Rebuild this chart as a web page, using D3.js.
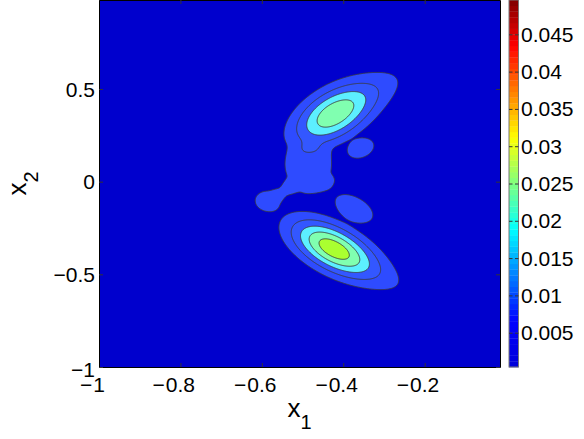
<!DOCTYPE html>
<html><head><meta charset="utf-8">
<script src="https://cdn.jsdelivr.net/npm/d3@7"></script>
<style>
body{margin:0;background:#fff}
svg{display:block}
text{font-family:"Liberation Sans",Arial,Helvetica,sans-serif;fill:#000}
</style>
</head><body>
<svg id="chart" width="584" height="439"></svg>
<script>
// ---- axis / tick data ----
const xTicks = [-1, -0.8, -0.6, -0.4, -0.2];
const yTicks = [-1, -0.5, 0, 0.5];
const cbTicks = [0.005, 0.01, 0.015, 0.02, 0.025, 0.03, 0.035, 0.04, 0.045];
const xExtent = [-1, -0.015];
const yExtent = [-1, 0.98];
const cExtent = [0.0004, 0.0496];
// contour levels of the density
const levels = [0.005, 0.01, 0.015, 0.02, 0.025];
// density: sum of bumps (centre, spread, tilt, height, edge sharpness)
// order: lower peak, lower skew, upper peak, upper skew, tail, foot, lobe, neck, blob right, blob middle
const bumpX     = [-0.4245, -0.2794, -0.4252, -0.3089, -0.4835, -0.4565, -0.5893, -0.5426, -0.3556, -0.3729];
const bumpY     = [-0.3611, -0.5402, 0.360, 0.5057, 0.0523, -0.007, -0.099, -0.0448, 0.1765, -0.1419];
const bumpSX    = [0.072, 0.0738, 0.0689, 0.0738, 0.0516, 0.0344, 0.0290, 0.0295, 0.0253, 0.0384];
const bumpSY    = [0.108, 0.108, 0.116, 0.108, 0.108, 0.0324, 0.052, 0.0486, 0.0416, 0.0615];
const bumpRho   = [-0.57, -0.6, 0.5, 0.6, 0, 0, 0, 0.7, 0.3, -0.5];
const bumpAmp   = [0.028, 0.003, 0.023, 0.0042, 0.0055, 0.0025, 0.0055, 0.0042, 0.008, 0.008];
const bumpShape = [1, 1, 1, 1, 3, 2, 2, 2, 2, 2];

// ---- styles ----
const bandColors = ["#0000cd", "#2e4bff", "#3357ff", "#5cefff", "#80ffb0", "#aaff30"];

const svg = d3.select("#chart");
const L = 99, R = 500, T = 0, B = 367;
const x = d3.scaleLinear().domain(xExtent).range([L, R]);
const y = d3.scaleLinear().domain(yExtent).range([B, T]);

function density(xd, yd) {
  let v = 0;
  for (let k = 0; k < bumpX.length; k++) {
    const dx = (xd - bumpX[k]) / bumpSX[k], dy = (yd - bumpY[k]) / bumpSY[k], r = bumpRho[k];
    const q = (dx * dx - 2 * r * dx * dy + dy * dy) / (1 - r * r);
    v += bumpAmp[k] * Math.exp(-Math.pow(q / 2, bumpShape[k]));
  }
  return v;
}
const W = R - L, H = B - T;
const vals = new Float64Array(W * H);
for (let j = 0; j < H; j++) {
  const yd = y.invert(T + j + 0.5);
  for (let i = 0; i < W; i++) vals[j * W + i] = density(x.invert(L + i + 0.5), yd);
}
const contours = d3.contours().size([W, H]).thresholds(levels)(vals);

svg.append("defs").append("clipPath").attr("id", "clip")
  .append("rect").attr("x", L).attr("y", T).attr("width", W).attr("height", H);
const plot = svg.append("g").attr("clip-path", "url(#clip)");
plot.append("rect").attr("x", L).attr("y", T).attr("width", W).attr("height", H).attr("fill", bandColors[0]);
const path = d3.geoPath();
plot.append("g").attr("transform", `translate(${L},${T})`)
  .selectAll("path").data(contours).join("path")
  .attr("d", path)
  .attr("fill", (d, i) => bandColors[i + 1])
  .attr("stroke", "#3a3a3a").attr("stroke-width", 0.9).attr("stroke-linejoin", "round");

// ---- axes (ticks inward, box) ----
const tickLen = 4;
const axB = svg.append("g").attr("transform", `translate(0,${B})`)
  .call(d3.axisBottom(x).tickValues(xTicks).tickSizeInner(-tickLen).tickSizeOuter(0).tickFormat(""));
const axT = svg.append("g").attr("transform", `translate(0,${T})`)
  .call(d3.axisTop(x).tickValues(xTicks).tickSizeInner(-tickLen).tickSizeOuter(0).tickFormat(""));
const axL = svg.append("g").attr("transform", `translate(${L},0)`)
  .call(d3.axisLeft(y).tickValues(yTicks).tickSizeInner(-tickLen).tickSizeOuter(0).tickFormat(""));
const axR = svg.append("g").attr("transform", `translate(${R},0)`)
  .call(d3.axisRight(y).tickValues(yTicks).tickSizeInner(-tickLen).tickSizeOuter(0).tickFormat(""));
[axB, axT, axL, axR].forEach(a => {
  a.select(".domain").attr("stroke", "#000").attr("stroke-width", 1);
  a.selectAll(".tick line").attr("stroke", "#333");
});

const fs = 21;
function fmt(v) { return String(Math.abs(v)); }
// x tick labels: number centred on tick, minus hanging left
xTicks.forEach(v => {
  const t = svg.append("text").attr("x", x(v)).attr("y", B + 25).attr("font-size", fs)
    .attr("text-anchor", "middle").text(fmt(v));
  if (v < 0) {
    const w = t.node().getComputedTextLength();
    svg.append("text").attr("x", x(v) - w / 2 - 1).attr("y", B + 25).attr("font-size", fs)
      .attr("text-anchor", "end").text("\u2212");
  }
});
yTicks.forEach(v => {
  svg.append("text").attr("x", L - 4).attr("y", y(v) + (v === -1 ? 2 : 0)).attr("dy", "0.36em").attr("font-size", fs)
    .attr("text-anchor", "end").text((v < 0 ? "\u2212" : "") + fmt(v));
});

// axis titles
const xl = svg.append("text").attr("x", (L + R) / 2).attr("y", 417).attr("text-anchor", "middle").attr("font-size", 26);
xl.append("tspan").text("x");
xl.append("tspan").attr("font-size", 20).attr("dy", 12).text("1");
const yl = svg.append("text").attr("transform", `translate(26,${(T + B) / 2}) rotate(-90)`).attr("text-anchor", "middle").attr("font-size", 26);
yl.append("tspan").text("x");
yl.append("tspan").attr("font-size", 20).attr("dy", 12).text("2");

// ---- colorbar ----
const cbL = 509, cbW = 9.5;
const c = d3.scaleLinear().domain(cExtent).range([B, T]);
function jet(t) {
  const cl = v => Math.max(0, Math.min(1, v));
  const r = cl(1.5 - Math.abs(4 * t - 3));
  const g = cl(1.5 - Math.abs(4 * t - 2));
  const b = t < 0.125 ? 0.85 + 0.15 * t / 0.125 : cl(1.5 - Math.abs(4 * t - 1));
  return d3.rgb(r * 255, g * 255, b * 255).formatHex();
}
const nSteps = 64;
const steps = d3.range(nSteps);
const stepH = (B - T) / nSteps;
svg.append("g").selectAll("rect").data(steps).join("rect")
  .attr("x", cbL).attr("width", cbW)
  .attr("y", i => B - (i + 1) * stepH).attr("height", stepH + 0.3)
  .attr("fill", i => jet((i + 0.5) / nSteps));
svg.append("rect").attr("x", cbL).attr("y", T).attr("width", cbW).attr("height", B - T)
  .attr("fill", "none").attr("stroke", "#777").attr("stroke-width", 1);
const cbAxL = svg.append("g").attr("transform", `translate(${cbL},0)`)
  .call(d3.axisLeft(c).tickValues(cbTicks).tickSizeInner(-3.5).tickSizeOuter(0).tickFormat(""));
const cbAxR = svg.append("g").attr("transform", `translate(${cbL + cbW},0)`)
  .call(d3.axisRight(c).tickValues(cbTicks).tickSizeInner(-3.5).tickSizeOuter(0).tickFormat(""));
[cbAxL, cbAxR].forEach(a => {
  a.select(".domain").remove();
  a.selectAll(".tick line").attr("stroke", "#333");
});
cbTicks.forEach(v => {
  svg.append("text").attr("x", 521).attr("y", c(v)).attr("dy", "0.36em").attr("font-size", fs)
    .text(String(v));
});
</script>
</body></html>
